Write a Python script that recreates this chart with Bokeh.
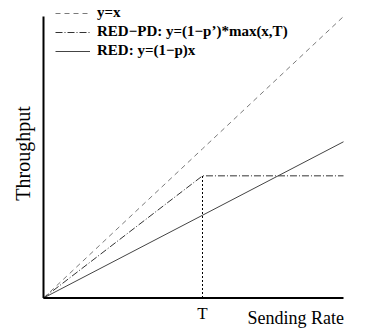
import math
from bokeh.plotting import figure
from bokeh.models import Legend, LegendItem, Label, Range1d
from bokeh.embed import file_html
from bokeh.resources import INLINE

# Sending rate (normalised) and the throughput of each scheme at those rates
send_rate = [0.0, 0.53, 1.0]
thr_ideal = [0.0, 0.53, 1.0]
thr_redpd = [0.0, 0.434, 0.434]
thr_red = [0.0, 0.294, 0.555]
T = 0.53

SERIF = "Liberation Serif"
W, H = 366, 331

# Plot area in canvas pixels; the data box [0,1]x[0,1] sits inside it
LEFT, RIGHT, TOP, BOTTOM = 43.0, 343.0, 16.0, 297.5
sx = RIGHT - LEFT
sy = BOTTOM - TOP
x_range = Range1d(-LEFT / sx, (W - LEFT) / sx)
y_range = Range1d(-(H - BOTTOM) / sy, 1 + TOP / sy)

p = figure(width=W, height=H, output_backend="svg", toolbar_location=None,
           x_range=x_range, y_range=y_range,
           x_axis_location=None, y_axis_location=None,
           min_border=0)
p.outline_line_color = None
p.grid.visible = False
p.background_fill_color = "white"
p.border_fill_color = "white"

r_ideal = p.line(send_rate, thr_ideal, line_color="#7a7a7a", line_width=1,
                 line_dash="5 4")
r_redpd = p.line(send_rate, thr_redpd, line_color="#333333", line_width=1,
                 line_dash="7 2 1 2")
r_red = p.line(send_rate, thr_red, line_color="#444444", line_width=1)

# Threshold marker from the axis up to the RED-PD plateau
p.line([T, T], [0, thr_redpd[1]], line_color="black", line_width=1,
       line_dash="2 2")

# Axis lines along the bottom and left of the data box
p.line([0, 1], [0, 0], line_color="black", line_width=2)
p.line([0, 0], [0, 1], line_color="black", line_width=2)

p.add_layout(Label(x=T, y=H - 313, y_units="screen", text="T",
                   text_font=SERIF, text_font_size="17px",
                   text_align="center", text_baseline="alphabetic",
                   text_color="black"))
p.add_layout(Label(x=247, y=H - 317, x_units="screen", y_units="screen",
                   text="Sending Rate", text_font=SERIF,
                   text_font_size="18px", text_baseline="alphabetic",
                   text_color="black"))
p.add_layout(Label(x=22, y=H - 153, x_units="screen", y_units="screen",
                   text="Throughput", angle=math.pi / 2, text_font=SERIF,
                   text_font_size="20px", text_align="center",
                   text_baseline="alphabetic", text_color="black"))

legend = Legend(items=[
    LegendItem(label="y=x", renderers=[r_ideal]),
    LegendItem(label="RED−PD: y=(1−p’)*max(x,T)", renderers=[r_redpd]),
    LegendItem(label="RED: y=(1−p)x", renderers=[r_red]),
], location=(55, H - 59))
legend.border_line_color = None
legend.background_fill_alpha = 0
legend.label_text_font = SERIF
legend.label_text_font_style = "bold"
legend.label_text_font_size = "15px"
legend.label_text_color = "black"
legend.glyph_width = 35
legend.glyph_height = 16
legend.label_height = 16
legend.label_standoff = 7
legend.spacing = 2
legend.padding = 0
legend.margin = 0
p.add_layout(legend, "center")

open("out.html", "w").write(file_html(p, INLINE))
